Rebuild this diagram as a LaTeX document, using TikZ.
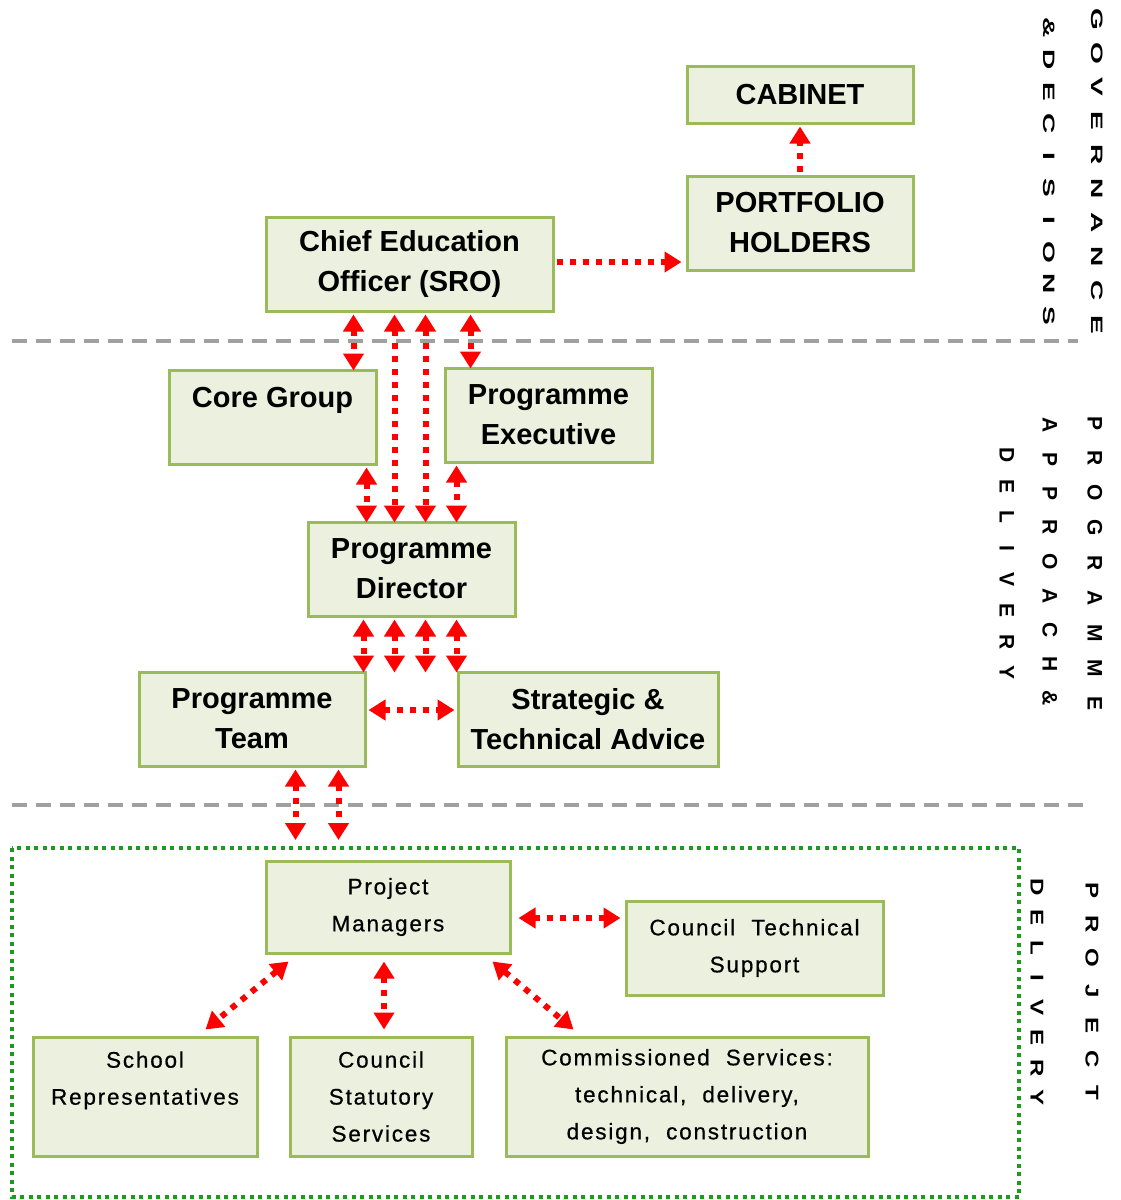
\documentclass[tikz,border=0pt]{standalone}
\usepackage{fontspec}
\usepackage{graphicx}
\setmainfont{Liberation Sans}
\newfontfamily\spacedfont{Liberation Sans}[LetterSpace=8,FakeBold=0.6]
\usetikzlibrary{arrows.meta}
\definecolor{boxfill}{HTML}{EBF1DE}
\definecolor{boxline}{HTML}{9BBB59}
\definecolor{dotgreen}{HTML}{1E9A1E}
\definecolor{sepgray}{HTML}{A0A0A0}
\ExplSyntaxOn
\NewDocumentCommand\spaced{mmm}{\tl_map_inline:nn {#3} {\makebox[#2][c]{\scalebox{#1}[1]{##1}}}}
\ExplSyntaxOff
\begin{document}
\begin{tikzpicture}[x=1pt,y=-1pt,
  >={Triangle[width=20pt,length=17pt]},
  box/.style={draw=boxline, fill=boxfill, line width=3pt, inner sep=0pt, align=center, text=black},
  topbox/.style={box, font=\fontsize{29}{40}\selectfont\bfseries},
  lowbox/.style={box, font=\spacedfont\fontsize{22.5}{37}\selectfont},
  link/.style={draw=red, line width=6pt, dash pattern=on 6pt off 7pt},
  sepline/.style={draw=sepgray, line width=3.5pt, dash pattern=on 15pt off 9pt},
  vt/.style={rotate=-90, inner sep=0pt, text depth=0pt, anchor=center, text=black},
  vtgov/.style={vt, font=\fontsize{16.5}{16}\selectfont\bfseries, text height=12pt},
  vtprog/.style={vt, font=\fontsize{21}{21}\selectfont\bfseries, text height=15pt},
  vtproj/.style={vt, font=\fontsize{18.5}{18}\selectfont\bfseries, text height=13pt}]
\useasboundingbox (0,0) rectangle (1120,1200);

% separators and project frame
\draw[sepline] (12,341) -- (1078,341);
\draw[sepline] (12,805) -- (1090,805);
\draw[draw=dotgreen, line width=4pt, dash pattern=on 4pt off 4.5pt] (12,848) rectangle (1019,1197);

% side labels
\node[vtgov] (gov1) at (1097,172) {\spaced{1.7}{34pt}{GOVERNANCE}};
\node[vtgov] (gov2) at (1049,172) {\spaced{1.7}{32pt}{{\&}DECISIONS}};
\node[vtprog] (prog1) at (1095,563) {\spaced{1}{35pt}{PROGRAMME}};
\node[vtprog] (prog2) at (1050,561.5) {\spaced{1}{34.1pt}{APPROACH{\&}}};
\node[vtprog] (prog3) at (1007,564) {\spaced{1}{31.1pt}{DELIVERY}};
\node[vtproj] (proj1) at (1092,991.5) {\spaced{1.3}{33.8pt}{PROJECT}};
\node[vtproj] (proj2) at (1037,992.5) {\spaced{1.3}{30.1pt}{DELIVERY}};

% boxes
\node[topbox, minimum width=226pt, minimum height=57pt] (cab) at (800,94.5) {CABINET};
\node[topbox, minimum width=226pt, minimum height=94pt] (port) at (800,223) {PORTFOLIO\\HOLDERS};
\node[topbox, minimum width=287pt, minimum height=94pt] (ceo) at (409.5,264) {Chief Education\\Officer (SRO)};
\node[topbox, minimum width=207pt, minimum height=94pt] (core) at (272.5,417) {Core Group\\\mbox{}};
\node[topbox, minimum width=207pt, minimum height=94pt] (exec) at (548.5,415) {Programme\\Executive};
\node[topbox, minimum width=207pt, minimum height=94pt] (dir) at (411.5,569) {Programme\\Director};
\node[topbox, minimum width=226pt, minimum height=94pt] (team) at (252,719) {Programme\\Team};
\node[topbox, minimum width=260pt, minimum height=94pt] (adv) at (588,719) {Strategic \&\\Technical Advice};

\node[lowbox, minimum width=244pt, minimum height=92pt] (pm) at (388,907) {Project\\Managers};
\node[lowbox, minimum width=257pt, minimum height=94pt] (cts) at (754.5,948) {Council\ \ Technical\\Support};
\node[lowbox, minimum width=224pt, minimum height=119pt] (school) at (145,1096.5) {School\\Representatives\\\mbox{}};
\node[lowbox, minimum width=182pt, minimum height=119pt] (stat) at (381,1096.5) {Council\\Statutory\\Services};
\node[lowbox, minimum width=362pt, minimum height=119pt] (comm) at (687,1096.5) {Commissioned\ \ Services:\\technical,\ \ delivery,\\design,\ \ construction};

\coordinate (pmtop) at (388,840);

% connectors
\draw[link,->] ([yshift=3pt]port.north) -- ([yshift=-2pt]cab.south);
\draw[link,->] ([xshift=2pt,yshift=2pt]ceo.east) -- ([xshift=-4pt,yshift=2pt]ceo.east -| port.west);
\draw[link,<->] ([xshift=89pt,yshift=-2pt]ceo.south west) -- ([xshift=89pt,yshift=-2pt]ceo.south west |- core.north);
\draw[link,<->] ([xshift=130pt,yshift=-2pt]ceo.south west) -- ([xshift=130pt,yshift=-2pt]ceo.south west |- dir.north);
\draw[link,<->] ([xshift=161pt,yshift=-2pt]ceo.south west) -- ([xshift=161pt,yshift=-2pt]ceo.south west |- dir.north);
\draw[link,<->] ([xshift=206pt,yshift=-2pt]ceo.south west) -- ([xshift=206pt,yshift=-2pt]ceo.south west |- exec.north);
\draw[link,<->] ([xshift=-11pt,yshift=-2pt]core.south east) -- ([xshift=-11pt,yshift=-2pt]core.south east |- dir.north);
\draw[link,<->] ([xshift=13pt,yshift=-2pt]exec.south west) -- ([xshift=13pt,yshift=-2pt]exec.south west |- dir.north);
\draw[link,<->] ([xshift=57pt,yshift=-2pt]dir.south west) -- ([xshift=57pt,yshift=-2pt]dir.south west |- team.north);
\draw[link,<->] ([xshift=88pt,yshift=-2pt]dir.south west) -- ([xshift=88pt,yshift=-2pt]dir.south west |- team.north);
\draw[link,<->] ([xshift=119pt,yshift=-2pt]dir.south west) -- ([xshift=119pt,yshift=-2pt]dir.south west |- adv.north);
\draw[link,<->] ([xshift=150pt,yshift=-2pt]dir.south west) -- ([xshift=150pt,yshift=-2pt]dir.south west |- adv.north);
\draw[link,<->] ([yshift=9pt,xshift=2pt]team.east) -- ([yshift=9pt,xshift=-2pt]team.east -| adv.west);
\draw[link,<->] ([xshift=158pt,yshift=-2pt]team.south west) -- ([xshift=158pt]team.south west |- pmtop);
\draw[link,<->] ([xshift=201pt,yshift=-2pt]team.south west) -- ([xshift=201pt]team.south west |- pmtop);
\draw[link,<->] ([xshift=7pt,yshift=-11pt]pm.east) -- ([xshift=-4pt,yshift=-11pt]pm.east -| cts.west);
\draw[link,<->] ([xshift=24pt,yshift=-7pt]pm.south west) -- ([xshift=174pt,yshift=6pt]school.north west);
\draw[link,<->] ([xshift=-4pt,yshift=-7pt]pm.south) -- ([xshift=3pt,yshift=6pt]stat.north);
\draw[link,<->] ([xshift=-19pt,yshift=-7pt]pm.south east) -- ([xshift=69pt,yshift=6pt]comm.north west);
\end{tikzpicture}
\end{document}
